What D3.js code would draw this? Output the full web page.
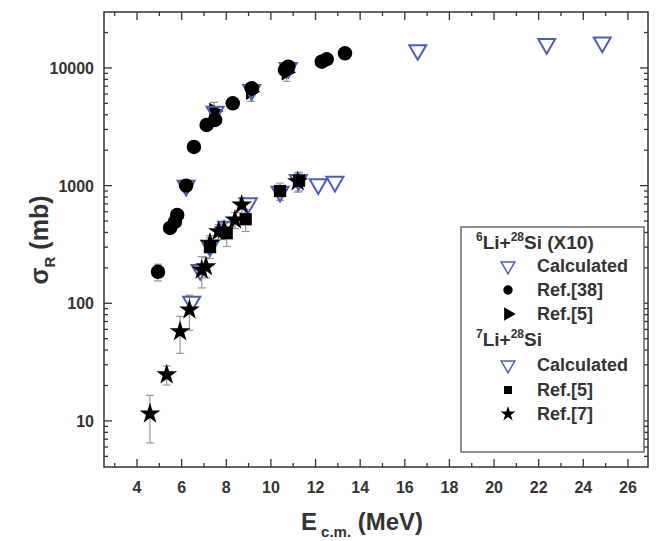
<!DOCTYPE html>
<html>
<head>
<meta charset="utf-8">
<script src="https://cdn.jsdelivr.net/npm/d3@7"></script>
<style>
  body { margin: 0; background: #fff; }
  text { font-family: "Liberation Sans", Arial, sans-serif; font-weight: bold; fill: #333; }
</style>
</head>
<body>
<svg width="667" height="541"></svg>
<script>
// 6Li + 28Si (x10)
var li6CalcE = [6.2, 7.5, 9.14, 10.78, 16.58, 22.36, 24.85];
var li6CalcS = [1000, 4250, 6500, 10000, 14200, 16000, 16500];

var li6Ref38E = [4.94, 5.48, 5.7, 5.8, 6.2, 6.55, 7.12, 7.5, 8.29, 9.14, 10.63, 10.78, 12.28, 12.5, 13.32];
var li6Ref38S = [185, 437, 492, 564, 1000, 2130, 3280, 3615, 5010, 6720, 9630, 10260, 11320, 11860, 13330];
var li6Ref38Err = [30, 40, 0, 0, 80, 0, 0, 0, 0, 0, 0, 0, 0, 0, 0];

var li6Ref5E = [7.45, 9.1, 10.7];
var li6Ref5S = [4300, 6300, 9200];
var li6Ref5Err = [800, 1100, 1500];

// 7Li + 28Si
var li7CalcE = [6.45, 6.83, 7.27, 8.02, 8.99, 10.41, 11.23, 12.12, 12.87];
var li7CalcS = [103, 192, 307, 449, 708, 889, 1120, 1030, 1080];

var li7Ref5E = [7.27, 8.02, 8.87, 10.41, 11.26];
var li7Ref5S = [300, 394, 518, 900, 1100];
var li7Ref5Err = [60, 90, 110, 150, 200];

var li7Ref7E = [4.58, 5.33, 5.93, 6.35, 6.9, 7.09, 7.27, 7.65, 7.9, 8.39, 8.69, 11.2];
var li7Ref7S = [11.5, 24.7, 57.5, 88, 192, 205, 325, 407, 420, 511, 686, 1080];
var li7Ref7Err = [5, 4.5, 20, 29, 57, 40, 50, 60, 60, 80, 100, 200];

var xTicks = [4, 6, 8, 10, 12, 14, 16, 18, 20, 22, 24, 26];
var yTicks = [10, 100, 1000, 10000];

var blue = "#4a5fb8";
var pL = 104, pT = 12, pR = 648, pB = 467;

var svg = d3.select("svg");
var x = d3.scaleLinear().domain([2.52, 26.9]).range([pL, pR]);
var y = d3.scaleLog().domain([4.06, 29900]).range([pB, pT]);

// minor ticks
var xMinor = d3.range(3, 27, 1);
var yMinor = [];
[1, 10, 100, 1000, 10000].forEach(function (d) {
  for (var k = 1; k < 10; k++) {
    var v = d * k;
    if (v >= 4.06 && v <= 29900) yMinor.push(v);
  }
});

var axisColor = "#333";
var ticks = svg.append("g").attr("stroke", axisColor).attr("stroke-width", 1.3);
xMinor.forEach(function (d) {
  var len = d % 2 === 0 ? 8 : 4;
  ticks.append("line").attr("x1", x(d)).attr("x2", x(d)).attr("y1", pB).attr("y2", pB - len);
  ticks.append("line").attr("x1", x(d)).attr("x2", x(d)).attr("y1", pT).attr("y2", pT + len);
});
yMinor.forEach(function (d) {
  var len = yTicks.indexOf(d) >= 0 ? 8 : 4;
  ticks.append("line").attr("x1", pL).attr("x2", pL + len).attr("y1", y(d)).attr("y2", y(d));
  ticks.append("line").attr("x1", pR).attr("x2", pR - len).attr("y1", y(d)).attr("y2", y(d));
});

svg.append("rect")
  .attr("x", pL).attr("y", pT)
  .attr("width", pR - pL).attr("height", pB - pT)
  .attr("fill", "none").attr("stroke", axisColor).attr("stroke-width", 1.5);

// tick labels
svg.append("g").selectAll("text").data(xTicks).join("text")
  .attr("x", d => x(d)).attr("y", 493)
  .attr("text-anchor", "middle").attr("font-size", 16)
  .text(d => d);
svg.append("g").selectAll("text").data(yTicks).join("text")
  .attr("x", 94).attr("y", d => y(d) + 6)
  .attr("text-anchor", "end").attr("font-size", 16)
  .text(d => d);

// axis titles
var xt = svg.append("text").attr("x", 362).attr("y", 530).attr("text-anchor", "middle").attr("font-size", 24);
xt.append("tspan").text("E");
xt.append("tspan").attr("font-size", 15).attr("dy", 7).text(" c.m.");
xt.append("tspan").attr("dy", -7).text(" (MeV)");

var yt = svg.append("text").attr("transform", "translate(48,240) rotate(-90)").attr("text-anchor", "middle").attr("font-size", 25);
yt.append("tspan").text("σ");
yt.append("tspan").attr("font-size", 15).attr("dy", 7).text("R");
yt.append("tspan").attr("dy", -7).text(" (mb)");

// symbols
var triDown = d3.symbol().type(d3.symbolTriangle).size(125);
var circ = d3.symbol().type(d3.symbolCircle).size(165);
var sq = d3.symbol().type(d3.symbolSquare).size(150);
var star = d3.symbol().type(d3.symbolStar).size(135);
var triRight = d3.symbol().type(d3.symbolTriangle).size(120);

function errBars(E, S, Err) {
  var g = svg.append("g").attr("stroke", "#999").attr("stroke-width", 1.2);
  E.forEach(function (e, i) {
    if (!Err[i]) return;
    var cx = x(e), y1 = y(S[i] - Err[i]), y2 = y(S[i] + Err[i]);
    g.append("line").attr("x1", cx).attr("x2", cx).attr("y1", y1).attr("y2", y2);
    g.append("line").attr("x1", cx - 4).attr("x2", cx + 4).attr("y1", y1).attr("y2", y1);
    g.append("line").attr("x1", cx - 4).attr("x2", cx + 4).attr("y1", y2).attr("y2", y2);
  });
}

function points(E, S, sym, rot, fill, stroke, sw) {
  svg.append("g").selectAll("path").data(E).join("path")
    .attr("transform", (d, i) => "translate(" + x(d) + "," + y(S[i]) + ") rotate(" + rot + ")")
    .attr("d", sym)
    .attr("fill", fill).attr("stroke", stroke).attr("stroke-width", sw);
}

errBars(li6Ref38E, li6Ref38S, li6Ref38Err);
errBars(li6Ref5E, li6Ref5S, li6Ref5Err);
errBars(li7Ref5E, li7Ref5S, li7Ref5Err);
errBars(li7Ref7E, li7Ref7S, li7Ref7Err);

points(li6Ref5E, li6Ref5S, triRight, 90, "#000", "none", 0);
points(li6CalcE, li6CalcS, triDown, 180, "none", blue, 2);
points(li6Ref38E, li6Ref38S, circ, 0, "#000", "none", 0);
points(li7CalcE, li7CalcS, triDown, 180, "none", blue, 2);
points(li7Ref5E, li7Ref5S, sq, 0, "#000", "none", 0);
points(li7Ref7E, li7Ref7S, star, 0, "#000", "none", 0);

// legend
var lg = svg.append("g");
lg.append("rect").attr("x", 461).attr("y", 227).attr("width", 183).attr("height", 225)
  .attr("fill", "#fff").attr("stroke", "#555").attr("stroke-width", 1.3);

function header(yy, mass, extra) {
  var t = lg.append("text").attr("x", 476).attr("y", yy).attr("font-size", 19);
  t.append("tspan").attr("font-size", 12).attr("dy", -8).text(mass);
  t.append("tspan").attr("dy", 8).text("Li+");
  t.append("tspan").attr("font-size", 12).attr("dy", -8).text("28");
  t.append("tspan").attr("dy", 8).text("Si" + extra);
}
header(249, "6", " (X10)");
header(346, "7", "");

var legendRows = [
  { y: 266, sym: triDown, rot: 180, fill: "none", stroke: blue, sw: 1.5, label: "Calculated", scale: 0.8 },
  { y: 290, sym: circ, rot: 0, fill: "#000", stroke: "none", sw: 0, label: "Ref.[38]", scale: 0.65 },
  { y: 314, sym: triRight, rot: 90, fill: "#000", stroke: "none", sw: 0, label: "Ref.[5]", scale: 0.8 },
  { y: 365, sym: triDown, rot: 180, fill: "none", stroke: blue, sw: 1.5, label: "Calculated", scale: 0.8 },
  { y: 390, sym: sq, rot: 0, fill: "#000", stroke: "none", sw: 0, label: "Ref.[5]", scale: 0.65 },
  { y: 414, sym: star, rot: 0, fill: "#000", stroke: "none", sw: 0, label: "Ref.[7]", scale: 0.72 }
];
legendRows.forEach(function (r) {
  lg.append("path").attr("d", r.sym)
    .attr("transform", "translate(508," + r.y + ") rotate(" + r.rot + ") scale(" + r.scale + ")")
    .attr("fill", r.fill).attr("stroke", r.stroke).attr("stroke-width", r.sw / r.scale);
  lg.append("text").attr("x", 537).attr("y", r.y + 6).attr("font-size", 18).text(r.label);
});
</script>
</body>
</html>
